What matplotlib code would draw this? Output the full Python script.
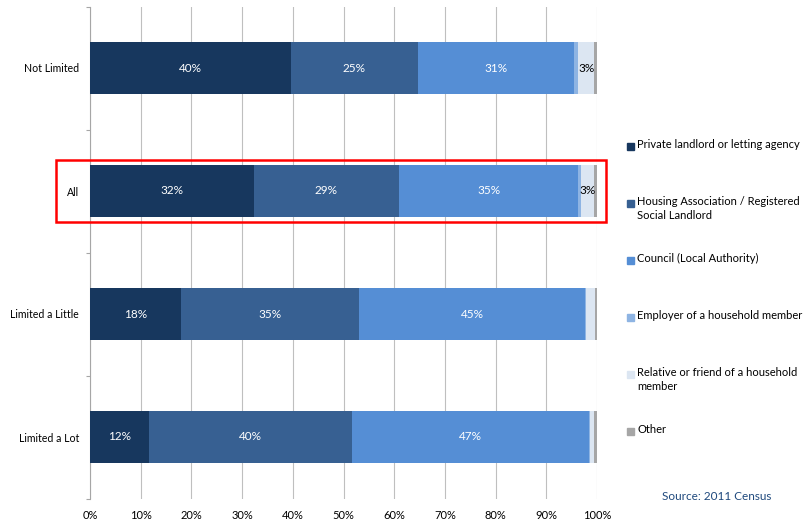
import matplotlib
matplotlib.use("Agg")
import matplotlib.pyplot as plt
import matplotlib.patches as mpatches
import numpy as np

plt.rcParams['font.family'] = ['Lato', 'DejaVu Sans']

categories = ["Not Limited", "All", "Limited a Little", "Limited a Lot"]
series_names = ["Private landlord or letting agency",
                "Housing Association / Registered\nSocial Landlord",
                "Council (Local Authority)",
                "Employer of a household member",
                "Relative or friend of a household\nmember",
                "Other"]
private = [39.6, 32.3, 17.9, 11.6]
housing_assoc = [25.1, 28.6, 35.2, 40.1]
council = [30.8, 35.4, 44.6, 46.8]
employer = [0.7, 0.6, 0.2, 0.2]
relative = [3.3, 2.6, 1.7, 0.8]
other = [0.5, 0.5, 0.4, 0.5]
xticklabels = ["0%", "10%", "20%", "30%", "40%", "50%", "60%", "70%", "80%", "90%", "100%"]

colors = ["#17375E", "#376092", "#558ED5", "#8EB4E3", "#DCE6F2", "#A6A6A6"]
text_colors = ["white", "white", "white", "black", "black", "black"]

fig = plt.figure(figsize=(8.1, 5.25), dpi=100)
ax = fig.add_axes([90/810, 1-498.5/525, (597-90)/810, (498.5-6.5)/525])

y = np.arange(len(categories))
left = np.zeros(len(categories))
all_series = [private, housing_assoc, council, employer, relative, other]
for vals, col, tcol in zip(all_series, colors, text_colors):
    vals = np.array(vals)
    bars = ax.barh(y, vals, left=left, height=0.42, color=col, zorder=3)
    for b, v, l in zip(bars, vals, left):
        if v >= 2.5:
            ax.text(l + v/2, b.get_y() + b.get_height()/2, f"{round(v):.0f}%",
                    ha='center', va='center', color=tcol, fontsize=8.5, zorder=4)
    left = left + vals

ax.set_xlim(0, 100)
ax.set_ylim(len(categories)-0.5, -0.5)
ax.set_xticks(np.arange(0, 101, 10))
ax.set_xticklabels(xticklabels, fontsize=8)
ax.tick_params(axis='x', length=0, pad=8)
ax.set_yticks(y)
ax.set_yticklabels(categories, fontsize=7.6)
ax.tick_params(axis='y', which='major', length=0, pad=8)
ax.set_yticks(np.arange(-0.5, len(categories), 1.0), minor=True)
ax.tick_params(axis='y', which='minor', length=3, color='#A6A6A6', width=0.8)
ax.grid(axis='x', color='#BFBFBF', linewidth=0.8, zorder=0)
for s in ['top', 'right', 'bottom']:
    ax.spines[s].set_visible(False)
ax.spines['left'].set_color('#A6A6A6')
ax.spines['left'].set_linewidth(0.8)

# Legend (manual, Excel-like)
for i, (name, col) in enumerate(zip(series_names, colors)):
    ytop = 146 + 57*i
    fig.patches.append(mpatches.Rectangle((627/810, 1-(ytop+3.5)/525), 7/810, 7/525,
                                          transform=fig.transFigure, color=col))
    fig.text(637/810, 1-(ytop-7)/525, name, ha='left', va='top', fontsize=8,
             linespacing=1.3)

# Highlight rectangle
fig.patches.append(mpatches.Rectangle((56/810, 1-222/525), (606-56)/810, (222-160)/525,
                                      transform=fig.transFigure, fill=False,
                                      edgecolor='#FF0000', linewidth=1.8))

fig.text(662/810, 1-497/525, "Source: 2011 Census", ha='left', va='center',
         fontsize=8.5, color='#1F497D')

fig.savefig("out.png", dpi=100)
